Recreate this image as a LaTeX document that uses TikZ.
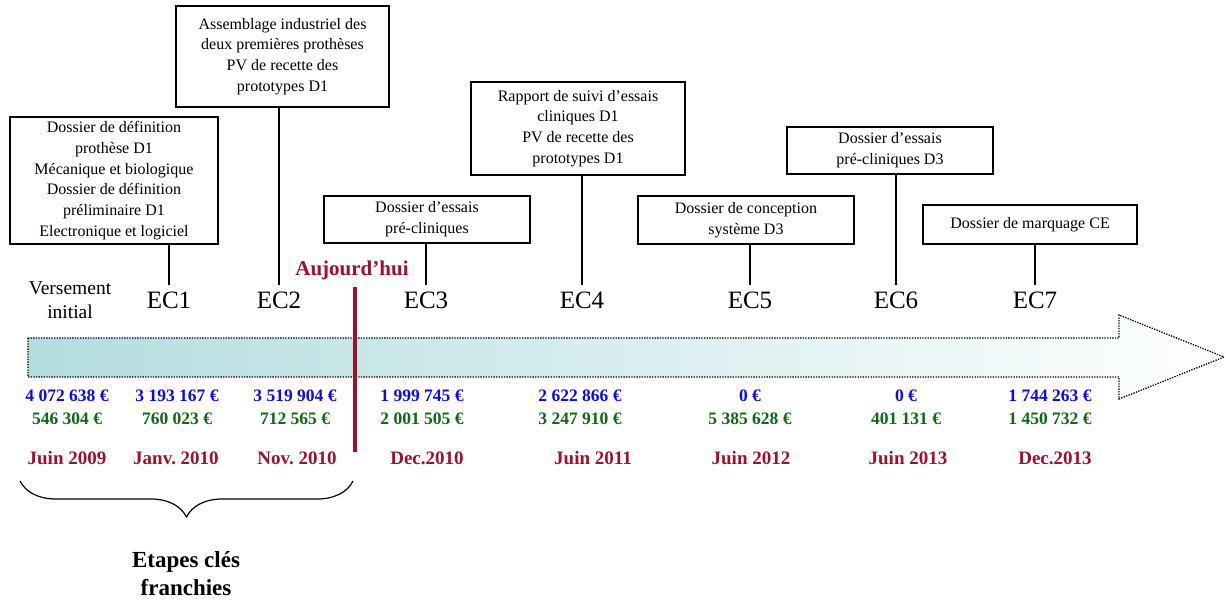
\documentclass[tikz,border=0pt]{standalone}
\usepackage{fontspec}
\setmainfont{Liberation Serif}
\usetikzlibrary{positioning,decorations.pathreplacing}
\frenchspacing

\definecolor{dateRed}{HTML}{A0102C}
\definecolor{sumBlue}{HTML}{0A0AF0}
\definecolor{sumGreen}{HTML}{0B6A12}
\definecolor{barTeal}{HTML}{B3DCDF}

\tikzstyle{doc} = [draw, line width=1.2pt, align=center, inner sep=2pt,
    font=\fontsize{16}{20.7}\selectfont]
\tikzstyle{jalon} = [inner sep=0pt, font=\fontsize{25}{26}\selectfont]
\tikzstyle{versed} = [inner sep=0pt, font=\bfseries\fontsize{17.5}{18}\selectfont, text=sumBlue]
\tikzstyle{spent} = [inner sep=0pt, font=\bfseries\fontsize{17.5}{18}\selectfont, text=sumGreen]
\tikzstyle{when} = [inner sep=0pt, font=\bfseries\fontsize{19}{20}\selectfont, text=dateRed]
\tikzstyle{link} = [line width=1.2pt]

\begin{document}
\begin{tikzpicture}[x=1pt, y=-1pt]
\useasboundingbox (0,0) rectangle (1226,601);

% the big arrow
\shade[left color=barTeal, right color=white]
    (28,338) -- (1119,338) -- (1119,315) -- (1224,357)
    -- (1119,399) -- (1119,377) -- (28,377) -- cycle;
\draw[line width=1.3pt, dash pattern=on 1.3pt off 1.3pt]
    (28,338) -- (1119,338) -- (1119,315) -- (1224,357)
    -- (1119,399) -- (1119,377) -- (28,377) -- cycle;

% deliverables
\node[doc, minimum width=208pt, minimum height=127pt] (b1) at (114,180.5)
    {Dossier de définition\\prothèse D1\\Mécanique et biologique\\
     Dossier de définition\\préliminaire D1\\Electronique et logiciel};
\node[doc, minimum width=213pt, minimum height=101pt] (b2) at (282.5,56.5)
    {Assemblage industriel des\\deux premières prothèses\\
     PV de recette des\\prototypes D1};
\node[doc, minimum width=206pt, minimum height=47pt] (b3) at (427,219.5)
    {Dossier d’essais\\pré-cliniques};
\node[doc, minimum width=214pt, minimum height=93pt] (b4) at (578,128.5)
    {Rapport de suivi d’essais\\cliniques D1\\PV de recette des\\prototypes D1};
\node[doc, minimum width=216pt, minimum height=48pt] (b5) at (746,220)
    {Dossier de conception\\système D3};
\node[doc, minimum width=206pt, minimum height=47pt] (b6) at (890,150.5)
    {Dossier d’essais\\pré-cliniques D3};
\node[doc, minimum width=214pt, minimum height=39pt] (b7) at (1030,224.5)
    {Dossier de marquage CE};

% milestones
\node[align=center, inner sep=0pt, font=\fontsize{19.5}{24}\selectfont] (vi) at (70,300)
    {Versement\\initial};
\node[jalon] (ec1) at (169,300) {EC1};
\node[jalon] (ec2) at (279,300) {EC2};
\node[jalon] (ec3) at (426,300) {EC3};
\node[jalon] (ec4) at (582,300) {EC4};
\node[jalon] (ec5) at (750,300) {EC5};
\node[jalon] (ec6) at (896,300) {EC6};
\node[jalon] (ec7) at (1035,300) {EC7};

\draw[link] (b1.south -| ec1) -- ([yshift=6pt]ec1.north);
\draw[link] (b2.south -| ec2) -- ([yshift=6pt]ec2.north);
\draw[link] (b3.south -| ec3) -- ([yshift=6pt]ec3.north);
\draw[link] (b4.south -| ec4) -- ([yshift=6pt]ec4.north);
\draw[link] (b5.south -| ec5) -- ([yshift=6pt]ec5.north);
\draw[link] (b6.south -| ec6) -- ([yshift=6pt]ec6.north);
\draw[link] (b7.south -| ec7) -- ([yshift=6pt]ec7.north);

% today
\node[inner sep=0pt, text=dateRed, font=\bfseries\fontsize{21}{22}\selectfont]
    (auj) at (352,270) {Aujourd’hui};
\coordinate (nowtop) at (355,287);
\coordinate (nowbot) at (355,452);
\draw[dateRed, line width=3.2pt] (nowtop) -- (nowbot);

% amounts
\node[versed] (v1) at (67,396) {4 072 638 €};
\node[versed] (v2) at (177,396) {3 193 167 €};
\node[versed] (v3) at (295,396) {3 519 904 €};
\node[versed] (v4) at (422,396) {1 999 745 €};
\node[versed] (v5) at (580,396) {2 622 866 €};
\node[versed] (v6) at (750,396) {0 €};
\node[versed] (v7) at (906,396) {0 €};
\node[versed] (v8) at (1050,396) {1 744 263 €};

\node[spent] (s1) at (67,419) {546 304 €};
\node[spent] (s2) at (177,419) {760 023 €};
\node[spent] (s3) at (295,419) {712 565 €};
\node[spent] (s4) at (422,419) {2 001 505 €};
\node[spent] (s5) at (580,419) {3 247 910 €};
\node[spent] (s6) at (750,419) {5 385 628 €};
\node[spent] (s7) at (906,419) {401 131 €};
\node[spent] (s8) at (1050,419) {1 450 732 €};

% dates
\node[when] (d1) at (67,458) {Juin 2009};
\node[when] (d2) at (176,458) {Janv. 2010};
\node[when] (d3) at (297,458) {Nov. 2010};
\node[when] (d4) at (427,458) {Dec.2010};
\node[when] (d5) at (593,458) {Juin 2011};
\node[when] (d6) at (751,458) {Juin 2012};
\node[when] (d7) at (908,458) {Juin 2013};
\node[when] (d8) at (1055,458) {Dec.2013};

% steps already done
\coordinate (brl) at (20,481);
\coordinate (brr) at (353,481);
\draw[line width=1.2pt, decorate,
    decoration={brace, mirror, amplitude=36pt}] (brl) -- (brr);
\node[align=center, font=\bfseries\fontsize{23}{28}\selectfont] (done)
    at (186,574) {Etapes clés\\franchies};
\end{tikzpicture}
\end{document}
